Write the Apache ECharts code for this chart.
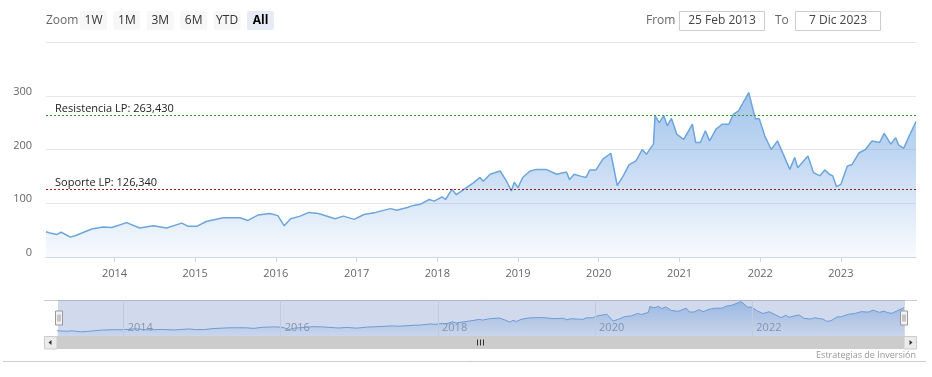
<!DOCTYPE html>
<html>
<head>
<meta charset="utf-8">
<script src="https://cdn.jsdelivr.net/npm/echarts@6/dist/echarts.min.js"></script>
<style>
  html, body { margin: 0; padding: 0; background: #fff; }
  #chart { width: 932px; height: 377px; }
</style>
</head>
<body>
<div id="chart"></div>
<script>
// cotizaciones (lectura aproximada del gráfico)
const dates = [
  '2013-02-25','2013-03-20','2013-04-15','2013-05-05','2013-06-15','2013-07-10','2013-08-15','2013-09-20','2013-11-10','2013-12-20',
  '2014-02-25','2014-04-25','2014-06-25','2014-08-25','2014-11-01','2014-12-01',
  '2015-01-08','2015-02-20','2015-05-08','2015-07-22','2015-08-28','2015-10-12','2015-12-05',
  '2016-01-10','2016-02-08','2016-03-08','2016-04-20','2016-05-30','2016-07-12','2016-09-25','2016-11-02','2016-12-20',
  '2017-02-03','2017-03-28','2017-06-03','2017-07-01','2017-08-18','2017-09-15','2017-10-15','2017-11-25','2017-12-18',
  '2018-01-22','2018-02-07','2018-03-08','2018-03-28','2018-05-01','2018-06-13','2018-07-13','2018-07-27','2018-08-28','2018-10-12','2018-11-10','2018-12-02','2018-12-15',
  '2019-01-01','2019-01-22','2019-02-25','2019-03-25','2019-05-08','2019-06-25','2019-08-08','2019-08-22','2019-09-12','2019-10-15','2019-11-05','2019-11-22','2019-12-20',
  '2020-01-20','2020-02-25','2020-03-25','2020-04-20','2020-05-18','2020-06-18','2020-07-16','2020-08-04','2020-08-25','2020-09-05','2020-09-12','2020-10-01','2020-10-22','2020-11-06','2020-11-25','2020-12-20',
  '2021-01-20','2021-02-28','2021-03-15','2021-04-05','2021-04-28','2021-05-17','2021-06-15','2021-07-13','2021-08-12','2021-09-02','2021-09-25','2021-11-10','2021-11-18','2021-12-10','2021-12-28',
  '2022-01-22','2022-02-20','2022-03-20','2022-05-15','2022-06-06','2022-06-20','2022-08-05','2022-08-30','2022-09-28','2022-10-20','2022-11-10','2022-11-25','2022-12-12',
  '2023-01-01','2023-01-30','2023-02-20','2023-03-25','2023-04-22','2023-05-22','2023-06-25','2023-07-16','2023-08-15','2023-09-06','2023-09-20','2023-10-12','2023-11-03','2023-12-07'
];
const prices = [
  47, 44, 42, 46, 37, 40, 46, 52, 56, 55,
  64, 54, 58, 54, 63, 57,
  57, 66, 73, 73, 68, 78, 81,
  77, 58, 71, 76, 83, 81, 71, 76, 70,
  79, 83, 90, 87, 92, 96, 98, 107, 104,
  112, 107, 126, 116, 126, 138, 148, 141, 154, 160, 141, 123, 139,
  129, 148, 160, 163, 163, 154, 158, 144, 154, 150, 148, 162, 162,
  182, 193, 133, 150, 172, 179, 200, 191, 204, 210, 263, 250, 263, 244, 258, 228,
  219, 247, 213, 213, 235, 216, 238, 247, 247, 266, 272, 306, 306, 257, 257,
  225, 200, 216, 163, 185, 166, 188, 157, 151, 162, 154, 151, 131,
  135, 169, 172, 194, 200, 216, 213, 230, 210, 222, 208, 202, 222, 252
];
const yTicks = [0, 100, 200, 300, 400];
const navYears = ['2014', '2016', '2018', '2020', '2022'];
const resistencia = 263.43;
const soporte = 126.34;
const zoomButtons = ['1W', '1M', '3M', '6M', 'YTD', 'All'];
const fromDate = '25 Feb 2013';
const toDate = '7 Dic 2023';
const credits = 'Estrategias de Inversión';

const FONT = '"Open Sans", sans-serif';
const YEAR = 365.25 * 24 * 3600 * 1000;
const seriesData = dates.map((d, i) => [d, prices[i]]);
const fmt = v => v.toFixed(3).replace('.', ',');

const chart = echarts.init(document.getElementById('chart'));

// botones de rango y cajas From/To
const topGraphics = [
  { type: 'text', x: 46, y: 21, style: { text: 'Zoom', fill: '#666', font: '12px ' + FONT, textVerticalAlign: 'middle' } }
];
zoomButtons.forEach((b, i) => {
  const x = 80 + i * 33.4;
  const active = b === 'All';
  topGraphics.push({
    type: 'rect', shape: { x: x, y: 11, width: 27, height: 19, r: 2 },
    style: { fill: active ? '#e6ebf5' : '#f7f7f7' }
  });
  topGraphics.push({
    type: 'text', x: x + 13.5, y: 20.5,
    style: { text: b, fill: active ? '#000' : '#333', font: (active ? 'bold ' : '') + '12px ' + FONT, textAlign: 'center', textVerticalAlign: 'middle' }
  });
});
topGraphics.push(
  { type: 'text', x: 646, y: 21, style: { text: 'From', fill: '#666', font: '12px ' + FONT, textVerticalAlign: 'middle' } },
  { type: 'rect', shape: { x: 679.5, y: 11.5, width: 85, height: 19 }, style: { fill: '#fff', stroke: '#ccc', lineWidth: 1 } },
  { type: 'text', x: 722, y: 21, style: { text: fromDate, fill: '#444', font: '12px ' + FONT, textAlign: 'center', textVerticalAlign: 'middle' } },
  { type: 'text', x: 775, y: 21, style: { text: 'To', fill: '#666', font: '12px ' + FONT, textVerticalAlign: 'middle' } },
  { type: 'rect', shape: { x: 795.5, y: 11.5, width: 85, height: 19 }, style: { fill: '#fff', stroke: '#ccc', lineWidth: 1 } },
  { type: 'text', x: 838, y: 21, style: { text: toDate, fill: '#444', font: '12px ' + FONT, textAlign: 'center', textVerticalAlign: 'middle' } }
);

// barra de desplazamiento (scrollbar) y pie
const bottomGraphics = [
  { type: 'line', shape: { x1: 44, y1: 300.5, x2: 917, y2: 300.5 }, style: { stroke: '#ccc', lineWidth: 1 } },
  { type: 'rect', shape: { x: 44, y: 336, width: 873, height: 13 }, style: { fill: '#f2f2f2' } },
  { type: 'rect', shape: { x: 57, y: 336, width: 847, height: 13 }, style: { fill: '#cccccc' } },
  { type: 'rect', shape: { x: 44.5, y: 336.5, width: 12.5, height: 12.5 }, style: { fill: '#ebebeb', stroke: '#ccc', lineWidth: 1 } },
  { type: 'rect', shape: { x: 904, y: 336.5, width: 12.5, height: 12.5 }, style: { fill: '#ebebeb', stroke: '#ccc', lineWidth: 1 } },
  { type: 'polygon', shape: { points: [[48.5, 342.5], [51.5, 340], [51.5, 345]] }, style: { fill: '#333' } },
  { type: 'polygon', shape: { points: [[912.5, 342.5], [909.5, 340], [909.5, 345]] }, style: { fill: '#333' } },
  { type: 'line', shape: { x1: 477.5, y1: 339.5, x2: 477.5, y2: 345.5 }, style: { stroke: '#333', lineWidth: 1 } },
  { type: 'line', shape: { x1: 480.5, y1: 339.5, x2: 480.5, y2: 345.5 }, style: { stroke: '#333', lineWidth: 1 } },
  { type: 'line', shape: { x1: 483.5, y1: 339.5, x2: 483.5, y2: 345.5 }, style: { stroke: '#333', lineWidth: 1 } },
  { type: 'text', x: 916, y: 355, style: { text: credits, fill: '#999', font: '9px ' + FONT, textAlign: 'right', textVerticalAlign: 'middle' } },
  { type: 'line', shape: { x1: 3, y1: 361.5, x2: 926, y2: 361.5 }, style: { stroke: '#ccc', lineWidth: 1 } }
];

// degradado sobre el área de trazado completa
const areaGradient = new echarts.graphic.LinearGradient(0, 42, 0, 262, [
  { offset: 0, color: 'rgba(96,154,222,1)' },
  { offset: 0.5, color: 'rgba(96,154,222,0.58)' },
  { offset: 1, color: 'rgba(96,154,222,0.04)' }
], true);

const option = {
  animation: false,
  textStyle: { fontFamily: FONT },
  grid: [
    { left: 46, right: 16, top: 42, height: 215 },
    { left: 57, right: 28, top: 300, height: 36 }
  ],
  xAxis: [
    {
      type: 'time', gridIndex: 0,
      min: dates[0], max: dates[dates.length - 1],
      minInterval: YEAR * 0.9, maxInterval: YEAR * 1.1,
      axisLine: { lineStyle: { color: '#ccd6eb' } },
      axisTick: { show: true, length: 5, lineStyle: { color: '#ccd6eb' } },
      splitLine: { show: false },
      axisLabel: { formatter: '{yyyy}', color: '#666', fontSize: 11, margin: 11, hideOverlap: false }
    },
    {
      type: 'time', gridIndex: 1,
      min: dates[0], max: dates[dates.length - 1],
      minInterval: YEAR * 0.9, maxInterval: YEAR * 1.1,
      axisLine: { show: false },
      axisTick: { show: false },
      splitLine: { show: false },
      axisLabel: {
        inside: true, color: '#999', fontSize: 11, align: 'left', padding: [0, 0, 0, 4], margin: 3,
        hideOverlap: false,
        formatter: v => {
          const y = String(new Date(v).getFullYear());
          return navYears.includes(y) ? y : '';
        }
      }
    }
  ],
  yAxis: [
    {
      type: 'value', gridIndex: 0,
      min: yTicks[0], max: yTicks[yTicks.length - 1], interval: 100,
      axisLine: { show: false }, axisTick: { show: false },
      splitLine: { lineStyle: { color: '#e6e6e6' } },
      axisLabel: {
        color: '#666', fontSize: 11, margin: 14, verticalAlign: 'bottom', lineHeight: 8,
        formatter: v => (v === yTicks[yTicks.length - 1] ? '' : v)
      }
    },
    {
      type: 'value', gridIndex: 1, min: 0, max: 320,
      show: false
    }
  ],
  dataZoom: [{
    type: 'slider', xAxisIndex: 0, filterMode: 'none',
    left: 57, right: 28, top: 300, height: 36,
    start: 0, end: 100,
    showDataShadow: false, showDetail: false, brushSelect: false,
    moveHandleSize: 0,
    backgroundColor: 'rgba(0,0,0,0)',
    borderColor: 'rgba(0,0,0,0)',
    fillerColor: 'rgba(102,133,194,0.3)',
    handleIcon: 'path://M-3.5,-7 L3.5,-7 L3.5,7 L-3.5,7 Z M-1,-3.5 L-1,3.5 M1,-3.5 L1,3.5',
    handleSize: 14,
    handleStyle: { color: '#f2f2f2', borderColor: '#999', borderWidth: 1 }
  }],
  graphic: { elements: topGraphics.concat(bottomGraphics) },
  series: [
    {
      type: 'line', xAxisIndex: 0, yAxisIndex: 0,
      data: seriesData,
      showSymbol: false,
      lineStyle: { color: '#6ea5dc', width: 1.5 },
      areaStyle: { color: areaGradient },
      markLine: {
        silent: true, symbol: ['none', 'none'],
        label: { position: 'insideStartTop', color: '#222', fontSize: 11, fontFamily: FONT, distance: [9, 1] },
        data: [
          { yAxis: resistencia, lineStyle: { color: '#2f9a2f', type: [2, 2], width: 1 }, label: { formatter: 'Resistencia LP: ' + fmt(resistencia) } },
          { yAxis: soporte, lineStyle: { color: '#9b1c1c', type: [2, 2], width: 1 }, label: { formatter: 'Soporte LP: ' + fmt(soporte) } }
        ]
      }
    },
    {
      type: 'line', xAxisIndex: 1, yAxisIndex: 1,
      data: seriesData,
      showSymbol: false,
      lineStyle: { color: '#6ea5dc', width: 1 },
      areaStyle: {
        color: new echarts.graphic.LinearGradient(0, 0, 0, 1, [
          { offset: 0, color: 'rgba(104,160,222,0.75)' },
          { offset: 1, color: 'rgba(104,160,222,0.1)' }
        ])
      },
      // líneas verticales del navegador cada dos años
      markLine: {
        silent: true, symbol: ['none', 'none'],
        label: { show: false },
        lineStyle: { color: '#c2cadc', type: 'solid', width: 1 },
        data: navYears.map(y => ({ xAxis: y + '-01-01' }))
      }
    }
  ]
};

chart.setOption(option);
</script>
</body>
</html>
